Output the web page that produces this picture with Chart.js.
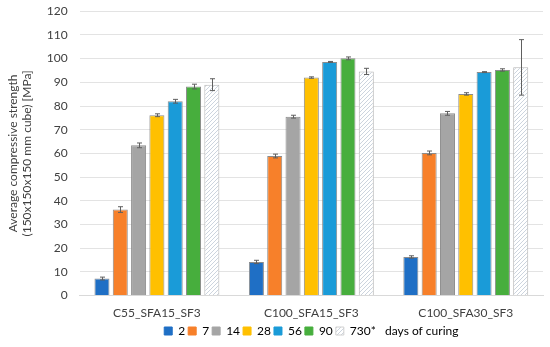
<!DOCTYPE html>
<html>
<head>
<meta charset="utf-8">
<script src="https://cdn.jsdelivr.net/npm/chart.js@4/dist/chart.umd.min.js"></script>
<style>
  html, body { margin: 0; padding: 0; background: #fff; }
  #wrap { width: 550px; height: 347px; }
</style>
</head>
<body>
<div id="wrap"><canvas id="chart"></canvas></div>
<script>
const categories = ['C55_SFA15_SF3', 'C100_SFA15_SF3', 'C100_SFA30_SF3'];
const days = ['2', '7', '14', '28', '56', '90', '730*'];

// mean strength per curing age, one entry per mix
const d2   = [7.2, 14.2, 16.3];
const d7   = [36.3, 58.9, 60.2];
const d14  = [63.4, 75.5, 76.9];
const d28  = [76.1, 92.0, 85.1];
const d56  = [82.0, 98.6, 94.3];
const d90  = [88.2, 100.1, 95.2];
const d730 = [89.0, 94.6, 96.3];

// standard deviation (error bars)
const e2   = [0.6, 0.7, 0.5];
const e7   = [1.2, 0.8, 0.8];
const e14  = [1.0, 0.6, 0.8];
const e28  = [0.6, 0.3, 0.5];
const e56  = [0.8, 0.2, 0.2];
const e90  = [1.0, 0.6, 0.5];
const e730 = [2.5, 1.3, 11.7];

const colors = ['#1F6FC5', '#F7802A', '#A5A5A5', '#FFC000', '#1A9BD8', '#47AE3D', 'hatch'];
const values = [d2, d7, d14, d28, d56, d90, d730];
const errors = [e2, e7, e14, e28, e56, e90, e730];

const FONT = 'Lato, "Open Sans", sans-serif';

function makeHatch() {
    const c = document.createElement('canvas');
    c.width = 4; c.height = 4;
    const g = c.getContext('2d');
    g.fillStyle = '#ffffff';
    g.fillRect(0, 0, 4, 4);
    g.strokeStyle = '#ccd4de';
    g.lineWidth = 1;
    g.beginPath();
    g.moveTo(0, 4); g.lineTo(4, 0);
    g.moveTo(-1, 1); g.lineTo(1, -1);
    g.moveTo(3, 5); g.lineTo(5, 3);
    g.stroke();
    return document.getElementById('chart').getContext('2d').createPattern(c, 'repeat');
}
const hatch = makeHatch();

// error bars drawn with the chart's own scales
const errorBars = {
    id: 'errorBars',
    afterDatasetsDraw(chart) {
        const ctx = chart.ctx;
        const y = chart.scales.y;
        ctx.save();
        ctx.strokeStyle = '#5f5f5f';
        ctx.lineWidth = 1;
        chart.data.datasets.forEach((ds, i) => {
            const meta = chart.getDatasetMeta(i);
            meta.data.forEach((bar, j) => {
                const v = ds.data[j], e = errors[i][j];
                const x = Math.round(bar.x) + 0.5;
                const top = y.getPixelForValue(v + e);
                const bot = y.getPixelForValue(v - e);
                ctx.beginPath();
                ctx.moveTo(x, top); ctx.lineTo(x, bot);
                ctx.moveTo(x - 2.5, top); ctx.lineTo(x + 2.5, top);
                ctx.moveTo(x - 2.5, bot); ctx.lineTo(x + 2.5, bot);
                ctx.stroke();
            });
        });
        ctx.restore();
    }
};

const datasets = days.map((d, i) => ({
    label: d,
    data: values[i],
    backgroundColor: colors[i] === 'hatch' ? hatch : colors[i],
    borderColor: colors[i] === 'hatch' ? '#b5b5b5' : '#8c8c8c',
    borderWidth: 1,
    borderDash: colors[i] === 'hatch' ? [2, 2] : [],
    categoryPercentage: 0.83,
    barPercentage: 0.82
}));

new Chart(document.getElementById('chart'), {
    type: 'bar',
    data: { labels: categories, datasets: datasets },
    plugins: [errorBars],
    options: {
        responsive: true,
        maintainAspectRatio: false,
        animation: false,
        layout: { padding: { top: 0, right: 7, left: 6, bottom: 0 } },
        plugins: {
            tooltip: { enabled: false },
            legend: {
                position: 'bottom',
                fullSize: false,
                labels: {
                    boxWidth: 8,
                    boxHeight: 8,
                    padding: 3,
                    color: '#404040',
                    font: { family: FONT, size: 12 },
                    generateLabels(chart) {
                        return chart.data.datasets.map((ds, i) => ({
                            text: i === days.length - 1 ? ds.label + '   days of curing' : ds.label,
                            fillStyle: ds.backgroundColor,
                            strokeStyle: i === days.length - 1 ? '#d0d0d0' : ds.backgroundColor,
                            lineWidth: 1,
                            hidden: false,
                            datasetIndex: i
                        }));
                    }
                }
            }
        },
        scales: {
            x: {
                grid: { display: false },
                border: { color: '#d9d9d9' },
                ticks: { color: '#404040', font: { family: FONT, size: 12 }, padding: 2 }
            },
            y: {
                min: 0,
                max: 120,
                ticks: { stepSize: 10, color: '#404040', font: { family: FONT, size: 12 }, padding: 4 },
                grid: { color: '#e3e3e3', drawTicks: true, tickLength: 8, tickColor: 'rgba(0,0,0,0)' },
                border: { display: false },
                title: {
                    display: true,
                    text: ['Average compressive strength', '(150x150x150 mm cube) [MPa]'],
                    color: '#404040',
                    font: { family: FONT, size: 12 },
                    padding: { top: 0, bottom: 8 }
                }
            }
        }
    }
});
</script>
</body>
</html>
